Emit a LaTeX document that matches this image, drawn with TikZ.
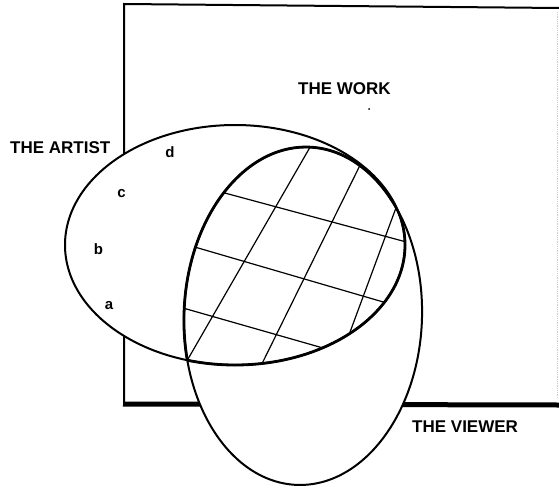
\documentclass[tikz,border=0pt]{standalone}
\usepackage{fontspec}
\setmainfont{Liberation Sans}
\begin{document}
\begin{tikzpicture}[x=1pt,y=-1pt,
  lbl/.style={font=\fontsize{17}{17}\selectfont\bfseries, inner sep=0pt, anchor=base west},
  letter/.style={font=\fontsize{15}{15}\selectfont\bfseries, inner sep=0pt, anchor=base},
  outline/.style={line width=2pt},
  innerline/.style={line width=2.8pt},
  hatch/.style={line width=1.2pt}]
\useasboundingbox (0,0) rectangle (559,487);
\fill[white] (0,0) rectangle (559,487);
\def\artistpath{(235,245) ellipse [x radius=170pt, y radius=120pt]}
\def\viewerpath{(303,316) ellipse [x radius=119pt, y radius=169pt, rotate=-2]}
% the work (frame)
\coordinate (wtl) at (124,4);
\coordinate (wtr) at (559,8);
\coordinate (wbl) at (124,404);
\coordinate (wbr) at (559,405);
\coordinate (wrt) at (557,12);
\coordinate (wrb) at (557,398);
\draw[line width=2pt] (wtr) -- (wtl) -- (wbl);
\draw[line width=5pt] ([xshift=-1pt]wbl) -- (wbr);
\draw[gray!40, densely dotted, line width=0.8pt] (wrt) -- (wrb);
% ellipses
\fill[white] \artistpath;
\fill[white] \viewerpath;
% hatch inside the intersection
\coordinate (ha1) at (184,182); \coordinate (ha2) at (436,250);
\coordinate (hb1) at (157,236); \coordinate (hb2) at (421,313);
\coordinate (hc1) at (155,300); \coordinate (hc2) at (351,356);
\coordinate (hd1) at (169,392); \coordinate (hd2) at (328,116);
\coordinate (he1) at (248,392); \coordinate (he2) at (371,143);
\coordinate (hf1) at (343,351); \coordinate (hf2) at (400,197);
\begin{scope}
  \clip \artistpath;
  \clip \viewerpath;
  \draw[hatch] (ha1) -- (ha2);
  \draw[hatch] (hb1) -- (hb2);
  \draw[hatch] (hc1) -- (hc2);
  \draw[hatch] (hd1) -- (hd2);
  \draw[hatch] (he1) -- (he2);
  \draw[hatch] (hf1) -- (hf2);
\end{scope}
\draw[outline] \artistpath;
\draw[outline] \viewerpath;
\begin{scope}
  \clip \viewerpath;
  \draw[innerline] \artistpath;
\end{scope}
\begin{scope}
  \clip \artistpath;
  \draw[innerline] \viewerpath;
\end{scope}
% labels
\node[lbl] (work) at (298,94) {THE WORK};
\node[lbl] (artist) at (10,153) {THE ARTIST};
\node[lbl] (viewer) at (412,432) {THE VIEWER};
\node[letter] (ld) at (170,157) {d};
\node[letter] (lc) at (121.5,197) {c};
\node[letter] (lb) at (98.5,254) {b};
\node[letter] (la) at (109,309) {a};
\fill (369,109) circle [radius=1pt];
\end{tikzpicture}
\end{document}
